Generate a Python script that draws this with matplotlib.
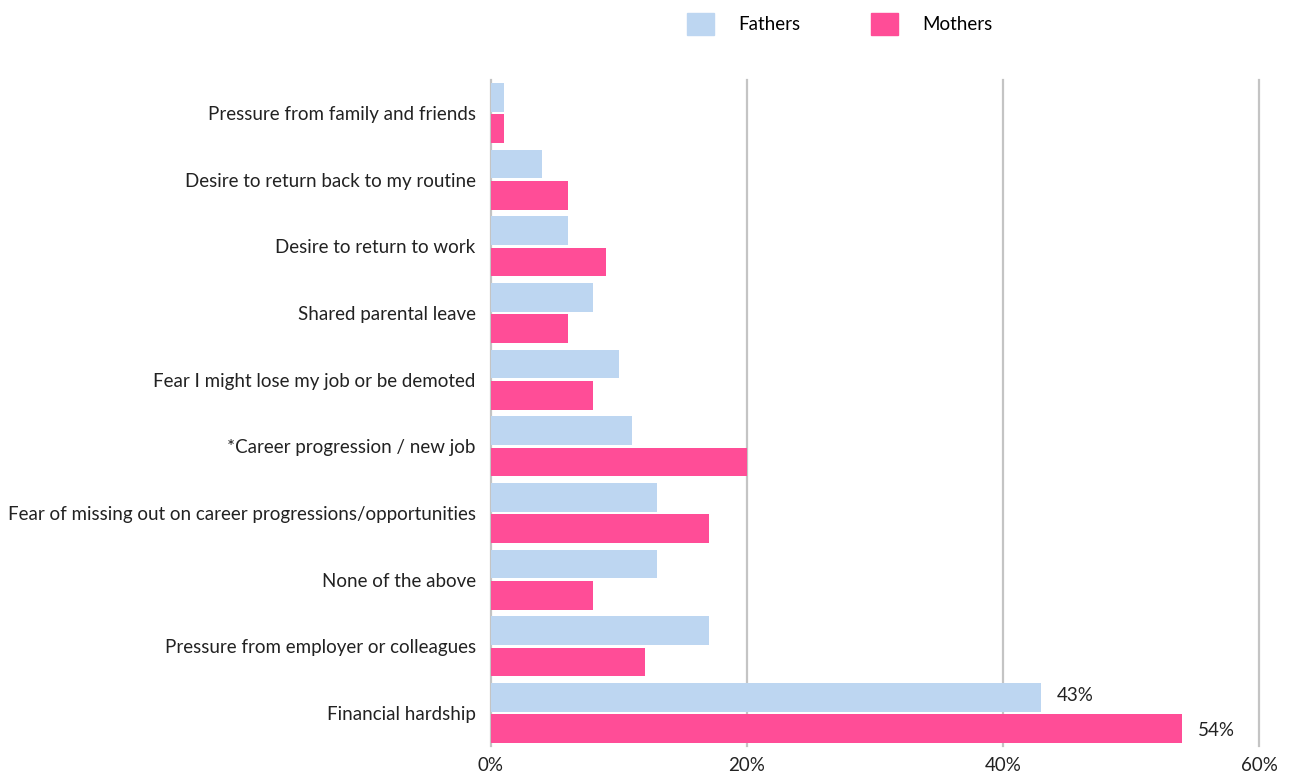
import matplotlib.pyplot as plt
import numpy as np
from matplotlib.patches import Patch

plt.rcParams['font.family'] = ['Lato', 'DejaVu Sans']

reasons = [
    "Pressure from family and friends",
    "Desire to return back to my routine",
    "Desire to return to work",
    "Shared parental leave",
    "Fear I might lose my job or be demoted",
    "*Career progression / new job",
    "Fear of missing out on career progressions/opportunities",
    "None of the above",
    "Pressure from employer or colleagues",
    "Financial hardship",
]
fathers = [1, 4, 6, 8, 10, 11, 13, 13, 17, 43]
mothers = [1, 6, 9, 6, 8, 20, 17, 8, 12, 54]

BLUE = '#bdd6f1'
PINK = '#ff4d97'
FS = 13.5

fig = plt.figure(figsize=(12.9, 7.76), dpi=100)
ax = fig.add_axes([0.3806, 0.0383, 0.5954, 0.859])

y = np.arange(len(reasons))
h = 0.43
ax.barh(y - h / 2 - 0.02, fathers, height=h, color=BLUE, zorder=3)
ax.barh(y + h / 2 + 0.02, mothers, height=h, color=PINK, zorder=3)

# only the biggest reason gets value labels
last = len(reasons) - 1
ax.text(fathers[last] + 1.2, last - h / 2 - 0.05, f"{fathers[last]}%", va='center', fontsize=FS, color='#222222')
ax.text(mothers[last] + 1.2, last + h / 2 + 0.05, f"{mothers[last]}%", va='center', fontsize=FS, color='#222222')

ax.set_xlim(0, 60)
ax.set_ylim(len(reasons) - 0.5, -0.5)
ax.set_xticks([0, 20, 40, 60])
ax.set_xticklabels(['0%', '20%', '40%', '60%'], fontsize=FS, color='#222222')
ax.set_yticks(y)
ax.set_yticklabels(reasons, fontsize=FS, color='#222222')
ax.tick_params(length=0)
ax.tick_params(axis='y', pad=11)
ax.tick_params(axis='x', pad=8)
ax.grid(axis='x', color='#c4c4c4', linewidth=1.6, zorder=0)
for gl in ax.get_xgridlines():
    gl.set_clip_on(False)
for s in ax.spines.values():
    s.set_visible(False)

handles = [Patch(color=BLUE, label='Fathers'), Patch(color=PINK, label='Mothers')]
fig.legend(handles=handles, loc='upper center', bbox_to_anchor=(0.651, 1.005), ncol=2,
           frameon=False, fontsize=FS, handlelength=1.4, handleheight=1.4,
           columnspacing=3.8, handletextpad=1.3)

fig.savefig('out.png', dpi=100)
